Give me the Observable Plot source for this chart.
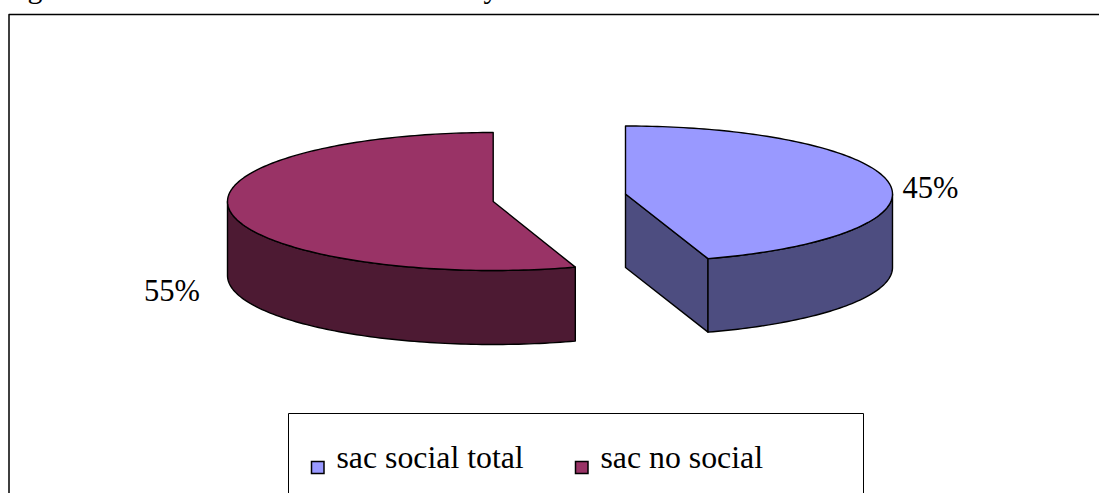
<!DOCTYPE html>
<html><head><meta charset="utf-8">
<script src="https://cdn.jsdelivr.net/npm/d3@7"></script>
<script src="https://cdn.jsdelivr.net/npm/@observablehq/plot@0.6"></script>
<style>html,body{margin:0;padding:0;background:#fff;overflow:hidden}svg{display:block}</style>
</head><body><div id="chart"></div>
<script>
const categories = ["sac social total", "sac no social"];
const shares = [45, 55];
const topColors = ["#9999FF", "#993366"];
const sideColors = ["#4D4D80", "#4D1A33"];
const labels = ["45%", "55%"];
const headerFragments = ["Figure", "y"];

const W = 1099, H = 493;
const serif = '"Liberation Serif","Times New Roman",serif';
// pie projection (layout only)
const pies = [
  {cx: 625, cy: 193.5, rx: 267, ry: 68, depth: 73.5},
  {cx: 492.7, cy: 201, rx: 265.7, ry: 69, depth: 74}
];
const total = d3.sum(shares);
const pt = (p, a, dz = 0) => [p.cx + p.rx * Math.sin(a), p.cy - p.ry * Math.cos(a) + dz];
const arcPts = (p, a0, a1, dz = 0) => {
  const n = Math.max(2, Math.ceil(Math.abs(a1 - a0) / 0.02));
  return d3.range(n + 1).map(i => pt(p, a0 + (a1 - a0) * i / n, dz));
};
const tau = 2 * Math.PI;
const a45 = shares[0] / total * tau; // end of first slice, clockwise from 12 o'clock

const shapes = [];
const add = (id, pts, fill) => pts.forEach(([x, y]) => shapes.push({id, x, y, fill}));

// blue slice: clockwise 0 -> a45
const b = pies[0];
add("b-cut", [[b.cx, b.cy], pt(b, a45), pt(b, a45, b.depth), [b.cx, b.cy + b.depth]], sideColors[0]);
add("b-wall", [...arcPts(b, Math.PI / 2, a45), ...arcPts(b, a45, Math.PI / 2, b.depth)], sideColors[0]);
add("b-top", [[b.cx, b.cy], ...arcPts(b, 0, a45)], topColors[0]);
// red slice: a45 -> 2pi, visible wall a45 .. 3pi/2
const r = pies[1];
add("r-wall", [...arcPts(r, a45, 1.5 * Math.PI), ...arcPts(r, 1.5 * Math.PI, a45, r.depth)], sideColors[1]);
add("r-top", [[r.cx, r.cy], ...arcPts(r, a45, tau)], topColors[1]);

const legendSwatch = [
  {x1: 311.5, x2: 324, y1: 461.5, y2: 473.5, fill: topColors[0]},
  {x1: 575.5, x2: 588, y1: 461.5, y2: 473.5, fill: topColors[1]}
];

const plot = Plot.plot({
  width: W, height: H, margin: 0,
  x: {domain: [0, W], range: [0, W], axis: null},
  y: {domain: [0, H], range: [0, H], axis: null},
  style: {background: "#fff"},
  marks: [
    // outer frame (cropped by the picture)
    Plot.line([[1099, 14], [8.5, 14], [8.5, 493]], {stroke: "#000", strokeWidth: 1.5}),
    // legend box
    Plot.line([[288, 493], [288, 413], [863, 413], [863, 493]], {stroke: "#000", strokeWidth: 1}),
    Plot.line(shapes, {x: "x", y: "y", z: "id", fill: "fill", stroke: "#000", strokeWidth: 1.4, strokeLinejoin: "round", curve: "linear-closed"}),
    Plot.text(labels, {x: [902, 143.5], y: [197, 300], text: d => d, textAnchor: "start", lineAnchor: "bottom", fontFamily: serif, fontSize: 30.5, fill: "#000"}),
    Plot.rect(legendSwatch, {x1: "x1", x2: "x2", y1: "y1", y2: "y2", fill: "fill", stroke: "#000", strokeWidth: 1.5}),
    Plot.text(categories, {x: [336, 600], y: [467, 467], text: d => d, textAnchor: "start", lineAnchor: "bottom", fontFamily: serif, fontSize: 31.8, fill: "#000"}),
    Plot.text(headerFragments, {x: [2, 483], y: [-3, -3], text: d => d, textAnchor: "start", lineAnchor: "bottom", fontFamily: serif, fontSize: 30, fill: "#000"})
  ]
});
document.getElementById("chart").append(plot);
</script></body></html>
